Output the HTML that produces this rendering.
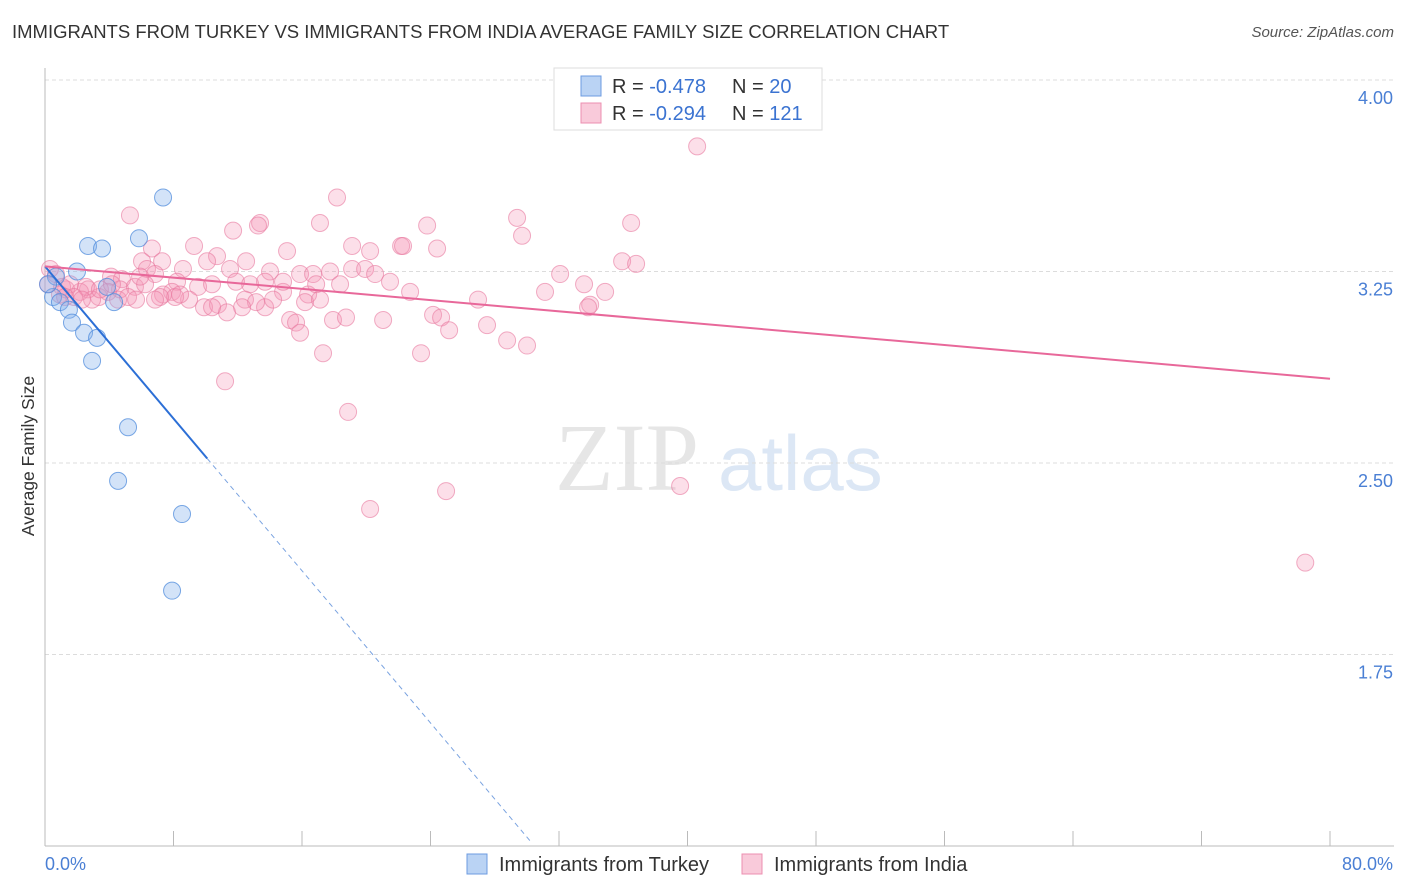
<!DOCTYPE html>
<html><head><meta charset="utf-8"><style>
body{margin:0;background:#fff;font-family:"Liberation Sans",sans-serif;}
#wrap{position:relative;width:1406px;height:892px;}
.title{position:absolute;left:12px;top:21px;font-size:18.5px;color:#333;}
.source{position:absolute;right:12px;top:24px;font-size:15px;color:#555;font-style:italic;}
</style></head><body>
<div id="wrap">
<div class="title">IMMIGRANTS FROM TURKEY VS IMMIGRANTS FROM INDIA AVERAGE FAMILY SIZE CORRELATION CHART</div>
<div class="source">Source: ZipAtlas.com</div>
<svg id="svg" width="1406" height="892" style="position:absolute;left:0;top:0"></svg>
</div>
<script>
const turkeyX=[7.35,2.68,3.55,5.85,1.99,0.68,0.5,0.93,1.49,1.68,2.43,3.24,2.93,3.86,4.30,5.17,4.55,8.53,7.91,0.19];
const turkeyY=[3.54,3.35,3.34,3.38,3.25,3.23,3.15,3.13,3.10,3.05,3.01,2.99,2.90,3.19,3.13,2.64,2.43,2.30,2.00,3.20];
const indiaX=[40.6,18.18,5.29,29.39,36.49,13.39,13.26,17.12,23.79,11.71,29.70,9.28,19.12,6.66,22.17,22.29,24.41,15.07,20.24,10.71,10.09,6.04,7.29,12.52,35.93,36.80,8.59,6.35,11.52,14.01,15.88,17.75,19.12,19.93,20.55,16.69,32.07,33.56,34.87,4.11,4.79,6.85,8.22,9.53,10.40,11.89,12.77,13.70,14.82,16.38,18.37,22.73,26.96,31.13,33.94,33.81,7.91,8.97,9.90,10.77,12.45,13.70,13.14,14.20,16.19,4.67,5.60,7.35,3.36,2.68,2.18,1.31,1.06,1.56,2.93,3.92,4.55,2.55,1.81,0.68,0.31,0.19,0.93,6.23,8.10,15.26,15.63,15.88,17.93,18.74,21.05,24.16,24.66,25.16,27.52,28.77,30.01,17.31,23.41,11.21,18.87,24.97,20.24,39.54,78.46,11.33,12.27,10.40,14.82,16.88,21.48,7.16,5.17,5.67,8.41,6.85,3.42,4.17,2.30,1.25,5.92,17.12];
const indiaY=[3.74,3.54,3.47,3.46,3.44,3.44,3.43,3.44,3.43,3.41,3.39,3.35,3.35,3.34,3.35,3.35,3.34,3.33,3.33,3.31,3.29,3.29,3.29,3.29,3.29,3.28,3.26,3.26,3.26,3.25,3.24,3.25,3.26,3.26,3.24,3.24,3.24,3.20,3.17,3.23,3.22,3.24,3.21,3.19,3.20,3.21,3.20,3.21,3.17,3.16,3.20,3.17,3.14,3.17,3.12,3.11,3.17,3.14,3.11,3.12,3.14,3.11,3.13,3.14,3.13,3.18,3.19,3.16,3.15,3.18,3.17,3.18,3.19,3.20,3.14,3.17,3.14,3.19,3.15,3.24,3.26,3.20,3.16,3.20,3.15,3.06,3.05,3.01,3.06,3.07,3.06,3.08,3.07,3.02,3.04,2.98,2.96,2.93,2.93,2.82,2.70,2.39,2.32,2.41,2.11,3.09,3.11,3.11,3.21,3.20,3.21,3.15,3.15,3.14,3.16,3.14,3.18,3.20,3.14,3.15,3.23,3.14];
const yTicks=[4.00,3.25,2.50,1.75];
const yTickLabels=["4.00","3.25","2.50","1.75"];
const turkeyTrend=[3.27,-0.0745]; // intercept, slope per %
const indiaTrend=[3.27,2.83];     // value at 0% and 80%

const NS="http://www.w3.org/2000/svg";
const svg=document.getElementById('svg');
const X=p=>45+p*(1285/80);
const Y=v=>80+(4-v)*255.33;
function mk(tag,attrs,parent){const e=document.createElementNS(NS,tag);for(const k in attrs)e.setAttribute(k,attrs[k]);(parent||svg).appendChild(e);return e;}

let w=mk('text',{x:555,y:490,'font-size':96,fill:'#e6e6e6','font-family':'Liberation Serif, serif'});w.textContent='ZIP';


let w2=mk('text',{x:718,y:490,'font-size':78,fill:'#dce7f5','font-family':'Liberation Sans, sans-serif'});w2.textContent='atlas';



yTicks.forEach((t,i)=>{
  const g=mk('line',{x1:45,x2:1394,y1:Y(t),y2:Y(t),stroke:'#dcdcdc','stroke-dasharray':'4,3'});
  
  
  const l=mk('text',{x:1393,y:Y(t)+24,'text-anchor':'end','font-size':18,fill:'#4a7fd4'});l.textContent=yTickLabels[i];
  
  
});
let ax=mk('line',{x1:45,x2:45,y1:68,y2:846,stroke:'#bbb'});


let bx=mk('line',{x1:45,x2:1394,y1:846,y2:846,stroke:'#bbb'});


for(let p=0;p<=80;p+=8){const t=mk('line',{x1:X(p),x2:X(p),y1:831,y2:846,stroke:'#bbb'});
  
  }
let x0=mk('text',{x:45,y:870,'font-size':18,fill:'#4a7fd4'});x0.textContent='0.0%';


let x1=mk('text',{x:1393,y:870,'font-size':18,fill:'#4a7fd4','text-anchor':'end'});x1.textContent='80.0%';


let yt=mk('text',{x:34,y:456,'font-size':17.5,fill:'#333','text-anchor':'middle',transform:'rotate(-90 34 456)'});yt.textContent='Average Family Size';



indiaX.forEach((p,i)=>{const c=mk('circle',{cx:X(p),cy:Y(indiaY[i]),r:8.5,fill:'rgba(244,150,182,0.3)',stroke:'rgba(232,120,158,0.6)','stroke-width':1});
  
  });
turkeyX.forEach((p,i)=>{const c=mk('circle',{cx:X(p),cy:Y(turkeyY[i]),r:8.5,fill:'rgba(130,175,235,0.35)',stroke:'rgba(80,140,220,0.75)','stroke-width':1});
  
  });

const tv=p=>turkeyTrend[0]+turkeyTrend[1]*p;
let tl=mk('line',{x1:X(0),y1:Y(tv(0)),x2:X(10.1),y2:Y(tv(10.1)),stroke:'#2c6fd6','stroke-width':2});


const pEnd=(turkeyTrend[0]-1.02)/-turkeyTrend[1];
let td=mk('line',{x1:X(10.1),y1:Y(tv(10.1)),x2:X(pEnd),y2:Y(tv(pEnd)),stroke:'#7aa3e0','stroke-width':1,'stroke-dasharray':'5,4'});


let il=mk('line',{x1:X(0),y1:Y(indiaTrend[0]),x2:X(80),y2:Y(indiaTrend[1]),stroke:'#e8689a','stroke-width':2});



let lg=mk('rect',{x:554,y:68,width:268,height:62,fill:'#fff',stroke:'#ddd'});


[[ 'rgba(130,175,235,0.55)','#6c9be0','-0.478','20',86],['rgba(244,150,182,0.5)','#ec8fb0','-0.294','121',113]].forEach(r=>{
  const s=mk('rect',{x:581,y:r[4]-10,width:20,height:20,fill:r[0],stroke:r[1]});
  
  
  const t=mk('text',{x:612,y:r[4]+7,'font-size':20,fill:'#333'});
  t.innerHTML='R = <tspan fill="#3b73d1">'+r[2]+'</tspan><tspan x="732">N = </tspan><tspan fill="#3b73d1">'+r[3]+'</tspan>';
  
  
});
[['rgba(130,175,235,0.55)','#6c9be0',467,'Immigrants from Turkey'],['rgba(244,150,182,0.5)','#ec8fb0',742,'Immigrants from India']].forEach(r=>{
  const s=mk('rect',{x:r[2],y:854,width:20,height:20,fill:r[0],stroke:r[1]});
  
  
  const t=mk('text',{x:r[2]+32,y:871,'font-size':20,fill:'#333'});t.textContent=r[3];
  
  
});
</script>
</body></html>
